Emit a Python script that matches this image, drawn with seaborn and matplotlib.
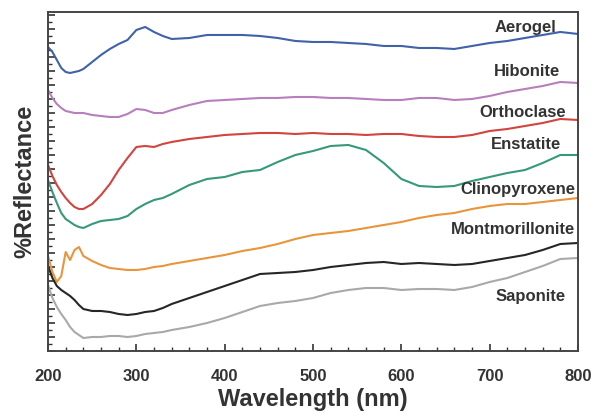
import numpy as np
import pandas as pd
import seaborn as sns
from matplotlib import pyplot as plt
from matplotlib.ticker import MultipleLocator, AutoMinorLocator

# wavelength grid [nm]
wavelength = ([200, 205, 210, 215, 220, 225, 230, 235, 240]
              + list(range(250, 350, 10))
              + list(range(360, 820, 20)))

# offset reflectance, arbitrary units
aerogel = [304, 299, 291, 283, 279, 278, 279, 280, 282,
           289, 296, 302, 307, 311, 321, 324, 319, 315, 312,
           313, 316, 316, 316, 315, 313, 310, 309, 309, 308, 307, 305, 305, 303,
           303, 302, 305, 308, 310, 313, 316, 319, 317]
hibonite = [261, 253, 247, 243, 240, 239, 238, 238, 238,
            236, 235, 234, 234, 237, 242, 241, 238, 238, 241,
            246, 250, 251, 252, 253, 253, 254, 254, 253, 253, 252, 251, 251, 253,
            253, 251, 252, 255, 259, 262, 265, 269, 268]
orthoclase = [186, 175, 166, 159, 153, 148, 144, 142, 142,
              147, 156, 167, 181, 193, 204, 205, 204, 207, 209,
              212, 214, 216, 217, 218, 218, 217, 218, 217, 217, 216, 217, 217, 215,
              214, 214, 216, 220, 222, 225, 228, 232, 231]
enstatite = [171, 159, 148, 138, 132, 129, 126, 124, 123,
             127, 130, 131, 132, 135, 142, 147, 151, 153, 157,
             166, 172, 174, 179, 181, 189, 196, 200, 205, 206, 201, 188, 172, 165,
             164, 165, 170, 174, 178, 181, 188, 196, 196]
clinopyroxene = [95, 79, 69, 75, 99, 91, 101, 104, 95,
                 90, 86, 83, 82, 81, 81, 82, 84, 85, 87,
                 90, 93, 96, 100, 103, 107, 112, 116, 118, 120, 123, 126, 129, 133,
                 136, 138, 142, 145, 147, 147, 149, 151, 153]
montmorillonite = [85, 73, 65, 61, 58, 55, 51, 46, 42,
                   40, 40, 39, 37, 36, 37, 39, 40, 43, 47,
                   53, 59, 65, 71, 77, 78, 79, 81, 84, 86, 88, 89, 87, 88,
                   87, 86, 87, 90, 93, 96, 101, 107, 108]
saponite = [66, 53, 44, 37, 31, 24, 19, 16, 13,
            14, 14, 15, 15, 14, 15, 17, 18, 19, 21,
            24, 28, 33, 39, 45, 48, 50, 53, 58, 61, 63, 63, 61, 62,
            62, 61, 64, 69, 73, 79, 85, 92, 93]

minerals = ['Aerogel', 'Hibonite', 'Orthoclase', 'Enstatite',
            'Clinopyroxene', 'Montmorillonite', 'Saponite']
spectra = [aerogel, hibonite, orthoclase, enstatite,
           clinopyroxene, montmorillonite, saponite]


def main():
    df = pd.concat([pd.DataFrame({'wavelength': wavelength, 'reflectance': s, 'mineral': m})
                    for m, s in zip(minerals, spectra)], ignore_index=True)

    palette = {
        'Aerogel': '#3f62a8',
        'Hibonite': '#b77fbb',
        'Orthoclase': '#d2443f',
        'Enstatite': '#37987c',
        'Clinopyroxene': '#e8953c',
        'Montmorillonite': '#262626',
        'Saponite': '#a9a9a9',
    }

    sns.set_style('ticks')
    plt.rcParams['font.family'] = ['Liberation Sans', 'DejaVu Sans']

    fig = plt.figure(figsize=(5.98, 4.19), dpi=100)
    ax = fig.add_axes([0.0803, 0.1623, 0.8863, 0.8091])
    sns.lineplot(data=df, x='wavelength', y='reflectance', hue='mineral',
                 palette=palette, linewidth=1.5, legend=False, ax=ax)

    # curve labels: (right edge nm, y)
    label_pos = {
        'Aerogel': (775, 323),
        'Hibonite': (780, 279),
        'Orthoclase': (786, 238),
        'Enstatite': (781, 206),
        'Clinopyroxene': (797, 161),
        'Montmorillonite': (797, 121),
        'Saponite': (786, 54),
    }
    for name, (x, y) in label_pos.items():
        ax.text(x, y, name, ha='right', va='center', fontsize=12,
                fontweight='bold', color='#333333')

    ax.set_xlim(200, 800)
    ax.set_ylim(0, 339)
    ax.xaxis.set_major_locator(MultipleLocator(100))
    ax.xaxis.set_minor_locator(MultipleLocator(20))
    ax.yaxis.set_major_locator(MultipleLocator(14))
    ax.yaxis.set_minor_locator(AutoMinorLocator(2))
    ax.tick_params(axis='both', which='both', direction='in', color='#333333',
                   top=False, right=False)
    ax.tick_params(axis='both', which='major', length=5, width=1.2)
    ax.tick_params(axis='both', which='minor', length=3, width=1.0)
    ax.tick_params(axis='x', labelsize=12, labelcolor='#333333', pad=13)
    ax.set_yticklabels([])
    for lab in ax.get_xticklabels():
        lab.set_fontweight('bold')
    for sp in ax.spines.values():
        sp.set_visible(True)
        sp.set_color('#444444')
        sp.set_linewidth(1.4)

    ax.set_xlabel('Wavelength (nm)', fontsize=17, fontweight='bold', color='#333333', labelpad=3)
    ax.set_ylabel('%Reflectance', fontsize=17, fontweight='bold', color='#333333', labelpad=5)

    fig.savefig('out.png', dpi=100)


if __name__ == '__main__':
    main()
